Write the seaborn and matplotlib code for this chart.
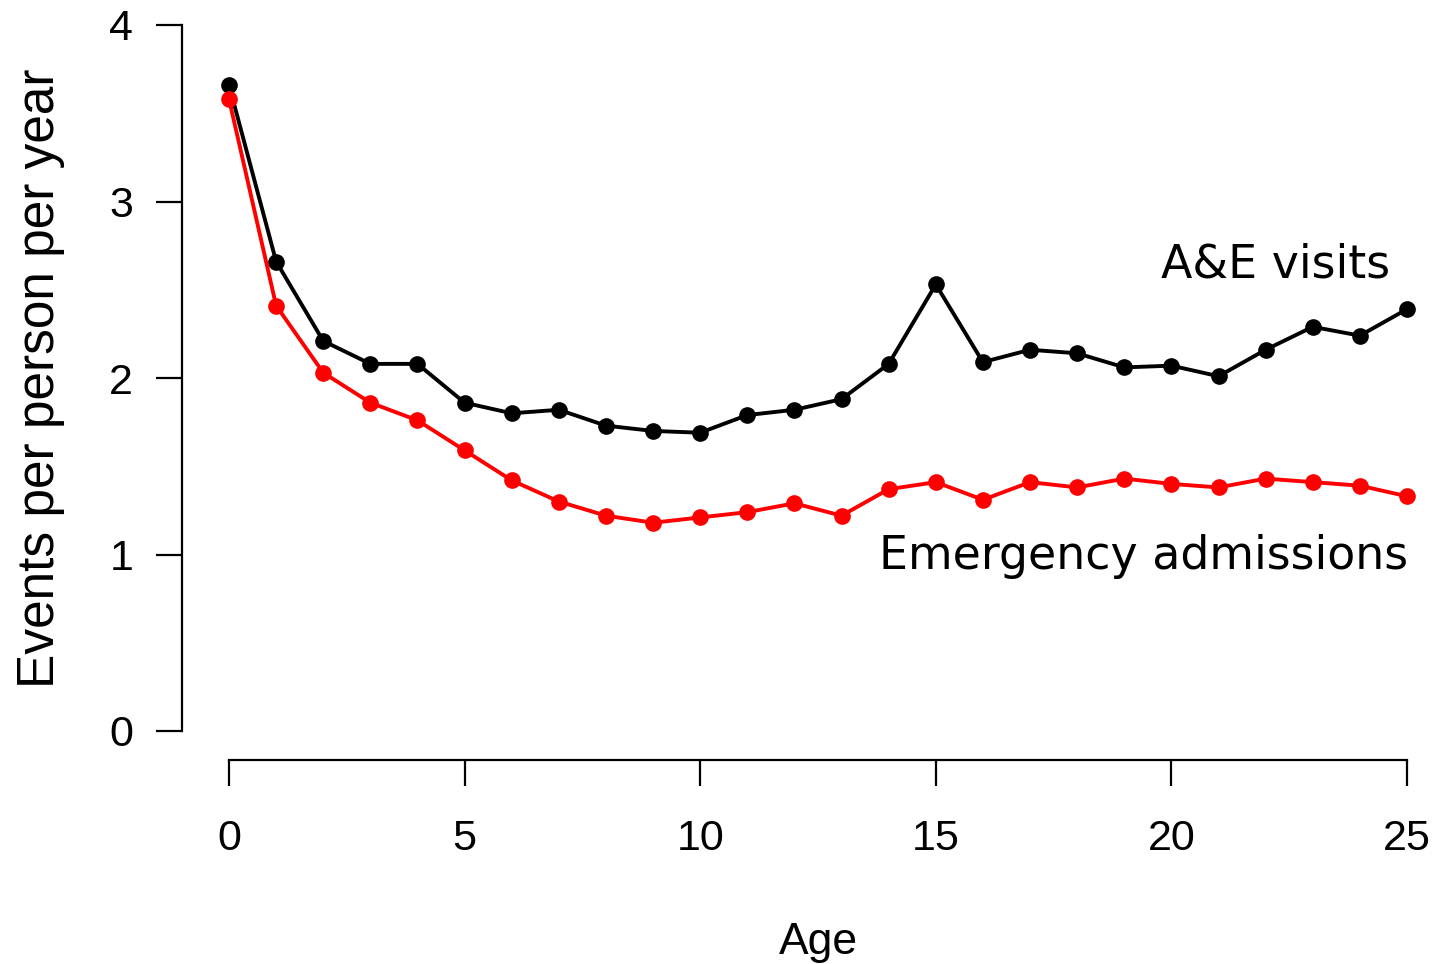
import numpy as np
import pandas as pd
import matplotlib
matplotlib.use("Agg")
import matplotlib.pyplot as plt
import seaborn as sns

# Events per person per year by age
ages = list(range(26))
ae_visits = [3.66, 2.66, 2.21, 2.08, 2.08, 1.86, 1.80, 1.82, 1.73, 1.70,
             1.69, 1.79, 1.82, 1.88, 2.08, 2.53, 2.09, 2.16, 2.14, 2.06,
             2.07, 2.01, 2.16, 2.29, 2.24, 2.39]
emergency = [3.58, 2.41, 2.03, 1.86, 1.76, 1.59, 1.42, 1.30, 1.22, 1.18,
             1.21, 1.24, 1.29, 1.22, 1.37, 1.41, 1.31, 1.41, 1.38, 1.43,
             1.40, 1.38, 1.43, 1.41, 1.39, 1.33]

df = pd.DataFrame({"age": ages, "ae": ae_visits, "em": emergency})

sns.set_style("ticks")
plt.rcParams["font.family"] = ["Liberation Sans", "DejaVu Sans"]
plt.rcParams["text.color"] = "black"
plt.rcParams["axes.labelcolor"] = "black"

fig = plt.figure(figsize=(14.36, 9.64), dpi=100)
ax = fig.add_axes([229 / 1436, 1 - 731 / 964, (1407 - 229) / 1436, (731 - 25) / 964])

sns.lineplot(data=df, x="age", y="ae", ax=ax, color="black", lw=2.8,
             marker="o", markersize=12, markeredgewidth=0, zorder=3)
sns.lineplot(data=df, x="age", y="em", ax=ax, color="#ff0000", lw=2.8,
             marker="o", markersize=12, markeredgewidth=0, zorder=4)

ax.set_xlim(0, 25)
ax.set_ylim(0, 4)
ax.set_xticks([0, 5, 10, 15, 20, 25])
ax.set_yticks([0, 1, 2, 3, 4])
for s in ["top", "right"]:
    ax.spines[s].set_visible(False)
ax.spines["left"].set_position(("outward", 34))
ax.spines["bottom"].set_position(("outward", 21))
ax.spines["left"].set_bounds(0, 4)
ax.spines["bottom"].set_bounds(0, 25)
for s in ["left", "bottom"]:
    ax.spines[s].set_linewidth(1.6)
    ax.spines[s].set_color("black")
ax.tick_params(axis="both", length=19, width=1.6, colors="black", labelsize=31)
ax.tick_params(axis="x", pad=23)
ax.tick_params(axis="y", pad=16)
for lab in ax.get_xticklabels() + ax.get_yticklabels():
    lab.set_clip_on(False)
for ln in ax.lines:
    ln.set_clip_on(False)

ax.set_xlabel("Age", fontsize=32, labelpad=46)
ax.set_ylabel("Events per person per year", fontsize=37, labelpad=32)

ax.text(24.64, 2.64, "A&E visits", fontsize=33, family="DejaVu Sans",
        ha="right", va="center")
ax.text(25.02, 0.99, "Emergency admissions", fontsize=33, family="DejaVu Sans",
        ha="right", va="center")

fig.savefig("out.png", dpi=100)
